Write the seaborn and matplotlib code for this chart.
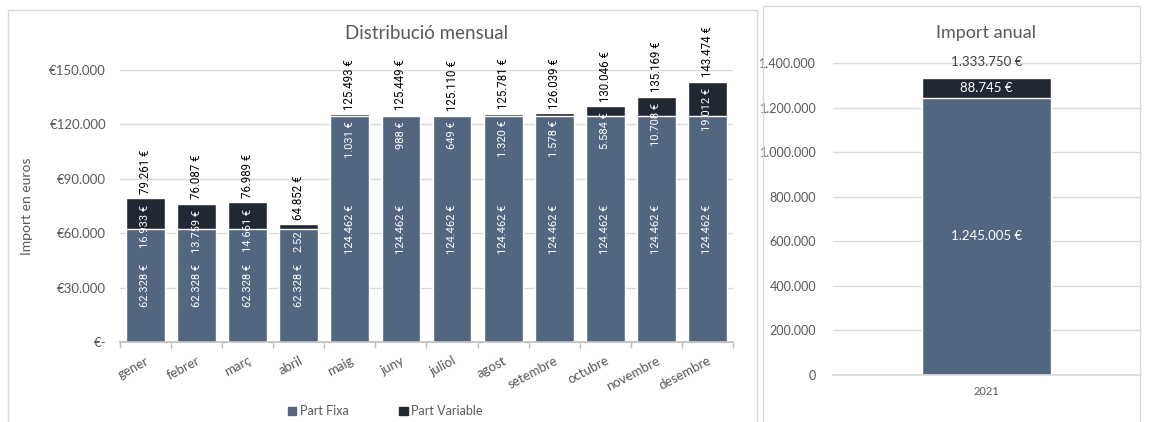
import matplotlib
matplotlib.use("Agg")
import matplotlib.pyplot as plt
from matplotlib.patches import Patch, Rectangle
from matplotlib.ticker import FuncFormatter, FixedLocator
import seaborn as sns

# ==========================================
# Dades
# ==========================================
mesos = ["gener", "febrer", "març", "abril", "maig", "juny", "juliol",
         "agost", "setembre", "octubre", "novembre", "desembre"]
part_fixa = [62328, 62328, 62328, 62328, 124462, 124462, 124462,
             124462, 124462, 124462, 124462, 124462]
part_variable = [16933, 13759, 14661, 2524, 1031, 988, 649,
                 1320, 1578, 5584, 10708, 19012]
total_mes = [79261, 76087, 76989, 64852, 125493, 125449, 125110,
             125781, 126039, 130046, 135169, 143474]

any_label = ["2021"]
anual_fixa = [1245005]
anual_variable = [88745]
anual_total = [1333750]

col_fixa = "#536680"
col_var = "#222833"
gris = "#595959"


def euro(v):
    return f"{v:,.0f}".replace(",", ".") + " €"


# etiquetes de la part variable (la d'abril surt tallada a l'original)
etiq_var = [euro(v) for v in part_variable]
etiq_var[3] = etiq_var[3][:4]

sns.set_theme(style="white")
plt.rcParams['font.family'] = ['Lato', 'DejaVu Sans']

fig = plt.figure(figsize=(11.5, 4.22), dpi=100)

# marcs dels dos panells
fig.add_artist(Rectangle((0.007, -0.01), 0.651, 0.986, transform=fig.transFigure,
                         fill=False, ec="#d9d9d9", lw=1))
fig.add_artist(Rectangle((0.6635, -0.01), 0.328, 0.996, transform=fig.transFigure,
                         fill=False, ec="#d9d9d9", lw=1))

# ==========================================
# Distribució mensual
# ==========================================
ax = fig.add_axes([0.1043, 0.1896, 0.5331, 0.6445])
sns.barplot(x=mesos, y=total_mes, color=col_var, saturation=1, width=0.76, ax=ax)
sns.barplot(x=mesos, y=part_fixa, color=col_fixa, saturation=1, width=0.76, ax=ax)
ax.set_ylim(0, 150000)
ax.set_xlim(-0.5, len(mesos) - 0.5)
ax.set_yticks([0, 30000, 60000, 90000, 120000, 150000])
ax.yaxis.set_major_formatter(FuncFormatter(
    lambda v, p: "€-" if v == 0 else "€" + f"{v:,.0f}".replace(",", ".")))
ax.grid(axis="y", color="#d9d9d9", lw=1)
ax.set_axisbelow(True)
for s in ["top", "right", "left"]:
    ax.spines[s].set_visible(False)
ax.spines["bottom"].set_color("#bfbfbf")
ax.tick_params(axis="y", colors=gris, labelsize=9.5, length=0, pad=10)
ax.tick_params(axis="x", colors=gris, labelsize=9.5, length=0, pad=9)
ax.xaxis.set_minor_locator(FixedLocator([i - 0.5 for i in range(len(mesos) + 1)]))
ax.tick_params(axis="x", which="minor", length=4, color="#bfbfbf", bottom=True)
plt.setp(ax.get_xticklabels(), rotation=28, ha="right", rotation_mode="anchor")
ax.set_ylabel("Import en euros", color=gris, fontsize=10, labelpad=12)
ax.set_xlabel("")
ax.set_title("Distribució mensual", color=gris, fontsize=13.5, pad=22)

for i, (f, t) in enumerate(zip(part_fixa, total_mes)):
    ax.text(i, f / 2, euro(f), rotation=90, ha="center", va="center",
            color="white", fontsize=8, family="Roboto")
    ax.text(i, t - 3500, etiq_var[i], rotation=90, ha="center", va="top",
            color="white", fontsize=8, family="Roboto")
    ax.text(i, t + 2500, euro(t), rotation=90, ha="center", va="bottom",
            color="black", fontsize=8.3, family="Roboto", clip_on=False)

fig.legend(handles=[Patch(color=col_fixa, label="Part Fixa"),
                    Patch(color=col_var, label="Part Variable")],
           loc="center", bbox_to_anchor=(0.335, 0.025), ncol=2, frameon=False,
           fontsize=9, handlelength=0.7, handleheight=0.7, columnspacing=4,
           handletextpad=0.3, labelcolor=gris)

# ==========================================
# Import anual
# ==========================================
ax2 = fig.add_axes([0.7243, 0.1114, 0.267, 0.7393])
sns.barplot(x=any_label, y=anual_total, color=col_var, saturation=1, width=0.42, ax=ax2)
sns.barplot(x=any_label, y=anual_fixa, color=col_fixa, saturation=1, width=0.42, ax=ax2)
ax2.set_ylim(0, 1400000)
ax2.set_xlim(-0.5, 0.5)
ax2.set_yticks(range(0, 1400001, 200000))
ax2.yaxis.set_major_formatter(FuncFormatter(lambda v, p: f"{v:,.0f}".replace(",", ".")))
ax2.grid(axis="y", color="#d9d9d9", lw=1)
ax2.set_axisbelow(True)
for s in ["top", "right", "left"]:
    ax2.spines[s].set_visible(False)
ax2.spines["bottom"].set_color("#d9d9d9")
ax2.tick_params(axis="y", colors=gris, labelsize=9, length=0, pad=12)
ax2.tick_params(axis="x", colors=gris, labelsize=8, length=0, pad=8)
ax2.set_xlabel("")
ax2.set_title("Import anual", color=gris, fontsize=13, pad=18)

for i, (f, v, t) in enumerate(zip(anual_fixa, anual_variable, anual_total)):
    ax2.text(i, f / 2, euro(f), ha="center", va="center", color="white", fontsize=9.5)
    ax2.text(i, f + v / 2, euro(v), ha="center", va="center", color="white", fontsize=9.5)
    ax2.text(i, t + 70000, euro(t), ha="center", va="center",
             color="#404040", fontsize=9.5)

fig.savefig("out.png", dpi=100)
plt.close(fig)
